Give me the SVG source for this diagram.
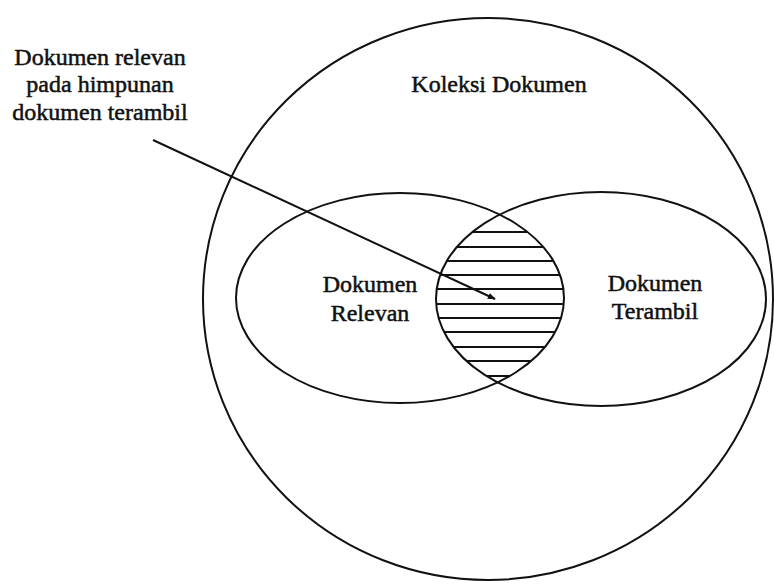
<svg xmlns="http://www.w3.org/2000/svg" width="774" height="584" viewBox="0 0 774 584">
<style>
.shape{fill:none;stroke:#111;stroke-width:2}
.hatch{stroke:#111;stroke-width:2}
.lbl{font-family:'Liberation Serif','DejaVu Serif','Times New Roman',serif;font-size:24px;fill:#111;stroke:#111;stroke-width:0.5;text-anchor:middle}
</style>
<defs>
<marker id="arr" viewBox="0 0 10 10" refX="9" refY="5" markerWidth="8" markerHeight="8" orient="auto" markerUnits="userSpaceOnUse">
<path d="M0,1 L10,5 L0,9 z" fill="#111"/>
</marker>
<clipPath id="lensL">
<ellipse cx="400" cy="298" rx="164" ry="105"/>
</clipPath>
<clipPath id="lensR">
<ellipse cx="601" cy="299" rx="165" ry="107"/>
</clipPath>
</defs>
<rect width="774" height="584" fill="#fff"/>
<g id="koleksi">
<ellipse class="shape" cx="488" cy="299" rx="285" ry="281"/>
<text class="lbl" x="499" y="92" font-family="Liberation Serif, serif">Koleksi Dokumen</text>
</g>
<g id="relevan">
<ellipse class="shape" cx="400" cy="298" rx="164" ry="105"/>
<text class="lbl" x="370" y="292" font-family="Liberation Serif, serif">Dokumen</text>
<text class="lbl" x="370" y="321" font-family="Liberation Serif, serif">Relevan</text>
</g>
<g id="terambil">
<ellipse class="shape" cx="601" cy="299" rx="165" ry="107"/>
<text class="lbl" x="655" y="291" font-family="Liberation Serif, serif">Dokumen</text>
<text class="lbl" x="655" y="319" font-family="Liberation Serif, serif">Terambil</text>
</g>
<g id="irisan">
<g clip-path="url(#lensL)">
<g clip-path="url(#lensR)">
<g class="hatch">
<line x1="430" y1="232" x2="570" y2="232"/>
<line x1="430" y1="247" x2="570" y2="247"/>
<line x1="430" y1="261" x2="570" y2="261"/>
<line x1="430" y1="275" x2="570" y2="275"/>
<line x1="430" y1="289" x2="570" y2="289"/>
<line x1="430" y1="304" x2="570" y2="304"/>
<line x1="430" y1="318" x2="570" y2="318"/>
<line x1="430" y1="332" x2="570" y2="332"/>
<line x1="430" y1="347" x2="570" y2="347"/>
<line x1="430" y1="361" x2="570" y2="361"/>
<line x1="430" y1="376" x2="570" y2="376"/>
</g>
</g>
</g>
</g>
<g id="keterangan">
<text class="lbl" x="100" y="65" font-family="Liberation Serif, serif">Dokumen relevan</text>
<text class="lbl" x="100" y="92" font-family="Liberation Serif, serif">pada himpunan</text>
<text class="lbl" x="100" y="120" font-family="Liberation Serif, serif">dokumen terambil</text>
</g>
<g id="connectors">
<line class="shape" x1="153" y1="140" x2="495" y2="299" marker-end="url(#arr)"/>
</g>
</svg>
